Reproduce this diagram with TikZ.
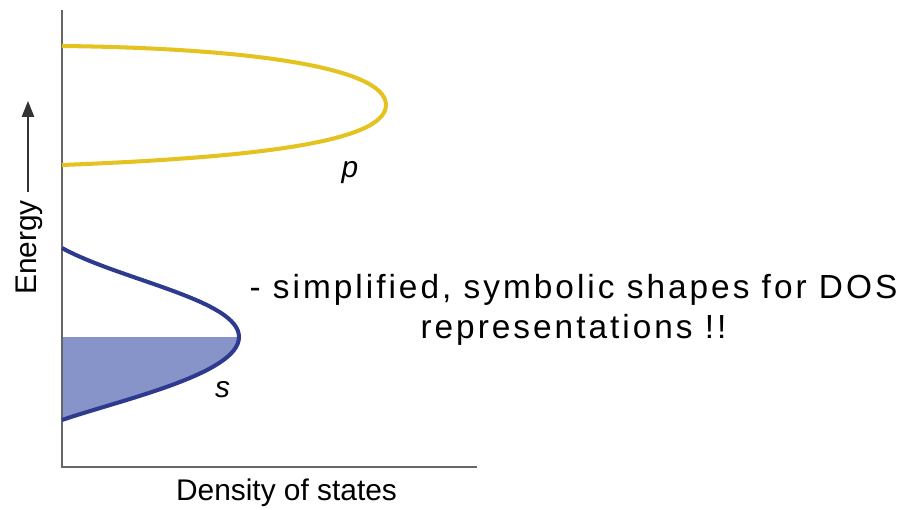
\documentclass[tikz,border=0pt]{standalone}
\usepackage{fontspec}
\setmainfont{Liberation Sans}
\newfontfamily\notefont[LetterSpace=9]{Liberation Sans}
\usepackage{tikz}
\usetikzlibrary{arrows.meta}
\definecolor{pband}{HTML}{E4C220}
\definecolor{sband}{HTML}{2E3A8E}
\definecolor{sfill}{HTML}{8794CA}

\begin{document}
\begin{tikzpicture}[x=0.02cm, y=-0.02cm,
    axisline/.style={gray!80!black, line width=1pt},
    bandline/.style={line width=2.3pt},
    lbl/.style={font=\fontsize{17}{20}\selectfont, inner sep=0pt}]
  \useasboundingbox (0,0) rectangle (910,510);

  % Filled part of the s band
  \fill[sfill] (62,337) -- (239,337) .. controls (239,374) and (120,400) .. (62,420) -- cycle;

  % Axes
  \draw[axisline] (62,10) -- (62,467) -- (477,467);

  % p band
  \draw[bandline, pband] (62,46) .. controls (240,48) and (386,66) .. (386,105)
    .. controls (386,144) and (240,158) .. (62,165);
  \node[lbl, anchor=base] (plabel) at (350,177) {\itshape p};

  % s band
  \draw[bandline, sband] (62,248) .. controls (120,280) and (239,300) .. (239,337)
    .. controls (239,374) and (120,400) .. (62,420);
  \node[lbl, anchor=base] (slabel) at (222.5,397) {\itshape s};

  % Axis labels
  \node[lbl, anchor=base, rotate=90] (energy) at (36,247.5) {Energy};
  \coordinate (earrowstart) at (28,192);
  \coordinate (earrowtip) at (28,101);
  \draw[-{Triangle[length=9pt, width=7pt]}, black!80, line width=0.8pt] (earrowstart) -- (earrowtip);
  \node[lbl, anchor=base] (dos) at (286.5,500) {Density of states};

  % Remark
  \node[font=\notefont\fontsize{19}{23}\selectfont, align=center, inner sep=0pt, anchor=north] (remark) at (573.5,274)
    {- simplified, symbolic shapes for DOS\\representations !!};
\end{tikzpicture}
\end{document}
